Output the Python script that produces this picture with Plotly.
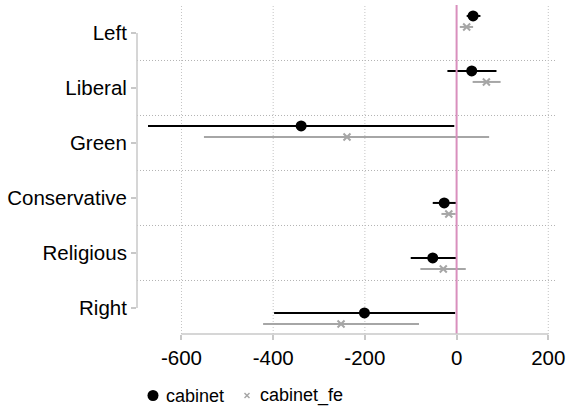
import plotly.graph_objects as go

categories = ["Left", "Liberal", "Green", "Conservative", "Religious", "Right"]

cab_est = [36, 33, -339, -27, -52, -201]
cab_lo = [22, -20, -673, -52, -100, -398]
cab_hi = [52, 87, -5, -1, -1, -3]

fe_est = [22, 65, -239, -17, -29, -252]
fe_lo = [7, 35, -551, -33, -79, -422]
fe_hi = [36, 96, 71, -2, 20, -82]

x_ticks = [-600, -400, -200, 0, 200]
series_names = ["cabinet", "cabinet_fe"]

# vertical placement of each group relative to its category tick
group_shift = [-0.31, -0.31, -0.31, 0.09, 0.09, 0.09]
fe_shift = 0.2

pos = list(range(1, len(categories) + 1))
y_cab = [p + s for p, s in zip(pos, group_shift)]
y_fe = [p + s + fe_shift for p, s in zip(pos, group_shift)]

BLACK = "#000000"
GREY = "#a6a6a6"
PINK = "#d98fbd"
AXIS = "#c8c8c8"
FONT = "Liberation Sans, Arial, sans-serif"

W, H = 566, 408
ML, MR, MT, MB = 137, 9, 5, 74
PW, PH = W - ML - MR, H - MT - MB

fig = go.Figure()


def ci_trace(lo, hi, ys, color, width):
    xs, yy = [], []
    for a, b, y in zip(lo, hi, ys):
        xs += [a, b, None]
        yy += [y, y, None]
    return go.Scatter(x=xs, y=yy, mode="lines", line=dict(color=color, width=width),
                      showlegend=False, hoverinfo="skip")


fig.add_trace(ci_trace(cab_lo, cab_hi, y_cab, BLACK, 2))
fig.add_trace(ci_trace(fe_lo, fe_hi, y_fe, GREY, 2))

fig.add_trace(go.Scatter(x=cab_est, y=y_cab, mode="markers", name=series_names[0],
                         showlegend=False,
                         marker=dict(symbol="circle", size=11, color=BLACK)))
fig.add_trace(go.Scatter(x=fe_est, y=y_fe, mode="markers", name=series_names[1],
                         showlegend=False,
                         marker=dict(symbol="x-thin", size=7, color=GREY,
                                     line=dict(color=GREY, width=2))))

# zero line
fig.add_shape(type="line", x0=0, x1=0, y0=0, y1=1, xref="x", yref="paper",
              line=dict(color=PINK, width=2), layer="above")
# Stata-style axis lines
fig.add_shape(type="line", x0=0, x1=0, y0=1, y1=6, xref="paper", yref="y",
              line=dict(color=AXIS, width=1.5))
fig.add_shape(type="line", x0=-600, x1=200, y0=0, y1=0, xref="x", yref="paper",
              line=dict(color=AXIS, width=1.5))
# horizontal dotted grid between groups
for g in [1.5, 2.5, 3.5, 4.5, 5.5]:
    fig.add_shape(type="line", x0=0, x1=1, y0=g, y1=g, xref="paper", yref="y",
                  line=dict(color="#b4b4b4", width=1, dash="1px,2px"), layer="below")
# vertical dotted grid
for t in [-600, -400, -200, 200]:
    fig.add_shape(type="line", x0=t, x1=t, y0=0, y1=1, xref="x", yref="paper",
                  line=dict(color="#c4c4c4", width=1, dash="1px,2px"), layer="below")


# manual legend (paper coords from pixel positions)
def px2x(px):
    return (px - ML) / PW


def py2y(py):
    return 1 - (py - MT) / PH


leg_y = py2y(395.5)
fig.add_shape(type="circle", xref="paper", yref="paper", xsizemode="pixel", ysizemode="pixel",
              xanchor=px2x(153), yanchor=leg_y, x0=-5.5, x1=5.5, y0=-5.5, y1=5.5,
              fillcolor=BLACK, line=dict(width=0))
for dx0, dy0, dx1, dy1 in [(-2.5, -2.5, 2.5, 2.5), (-2.5, 2.5, 2.5, -2.5)]:
    fig.add_shape(type="line", xref="paper", yref="paper", xsizemode="pixel", ysizemode="pixel",
                  xanchor=px2x(247), yanchor=leg_y, x0=dx0, x1=dx1, y0=dy0, y1=dy1,
                  line=dict(color=GREY, width=1.5))
fig.add_annotation(text=series_names[0], xref="paper", yref="paper", x=px2x(164), y=leg_y,
                   xanchor="left", yanchor="middle", showarrow=False,
                   font=dict(size=18, color=BLACK))
fig.add_annotation(text=series_names[1], xref="paper", yref="paper", x=px2x(258), y=leg_y,
                   xanchor="left", yanchor="middle", showarrow=False,
                   font=dict(size=18, color=BLACK))

fig.update_layout(
    width=W, height=H,
    margin=dict(l=ML, r=MR, t=MT, b=MB, autoexpand=False),
    paper_bgcolor="white", plot_bgcolor="white",
    showlegend=False,
    font=dict(family=FONT, size=20.5, color="#000000"),
    xaxis=dict(range=[-697, 219], tickvals=x_ticks, ticktext=[str(v) for v in x_ticks],
               showgrid=False, zeroline=False, showline=False, automargin=False,
               ticks="outside", ticklen=5, tickcolor=AXIS, tickwidth=1.5,
               tickfont=dict(size=20.5)),
    yaxis=dict(range=[6.473, 0.491], tickvals=pos, ticktext=categories,
               showgrid=False, zeroline=False, showline=False, automargin=False,
               ticks="outside", ticklen=5, tickcolor=AXIS, tickwidth=1.5,
               tickfont=dict(size=20.5)),
)

fig.write_html("out.html", config={"displayModeBar": False},
               post_script="document.body.style.margin='0';document.body.style.overflow='hidden';")
